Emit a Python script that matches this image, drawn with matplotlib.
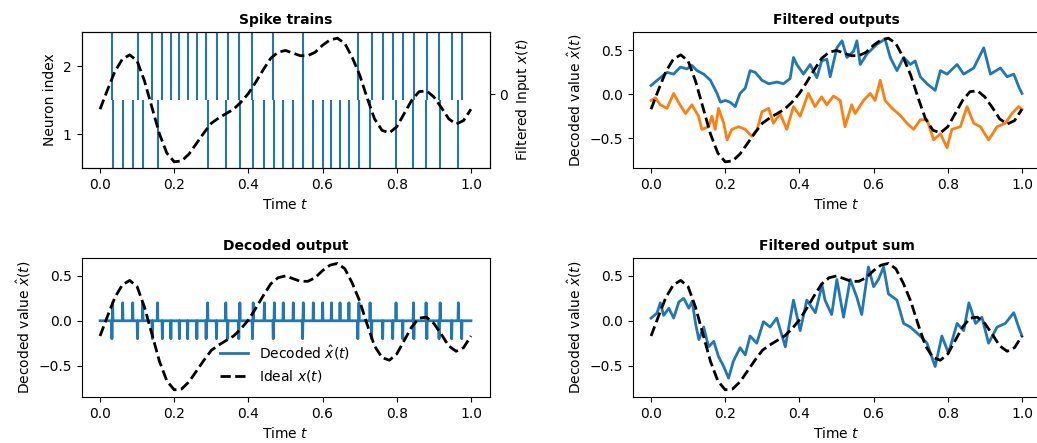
import numpy as np
import matplotlib
matplotlib.use('Agg')
import matplotlib.pyplot as plt

# spike times (s)
spikes_n1 = [0.034, 0.061, 0.088, 0.115, 0.155, 0.290, 0.339, 0.377, 0.413, 0.443,
             0.470, 0.494, 0.521, 0.548, 0.575, 0.600, 0.624, 0.647, 0.671, 0.698,
             0.728, 0.798, 0.845, 0.879, 0.917, 0.966]
spikes_n2 = [0.032, 0.101, 0.141, 0.168, 0.191, 0.214, 0.236, 0.261, 0.286, 0.314,
             0.344, 0.374, 0.411, 0.467, 0.546, 0.695, 0.732, 0.762, 0.789, 0.816,
             0.846, 0.881, 0.914, 0.948, 0.975]
spike_height = 0.2

# ideal filtered input x(t)
t_x = [0.00, 0.02, 0.04, 0.06, 0.08, 0.10, 0.12, 0.14, 0.16, 0.18, 0.20, 0.22, 0.24,
       0.26, 0.28, 0.30, 0.32, 0.34, 0.36, 0.38, 0.40, 0.42, 0.44, 0.46, 0.48, 0.50,
       0.52, 0.54, 0.56, 0.58, 0.60, 0.62, 0.64, 0.66, 0.68, 0.70, 0.72, 0.74, 0.76,
       0.78, 0.80, 0.82, 0.84, 0.86, 0.88, 0.90, 0.92, 0.94, 0.96, 0.98, 1.00]
x_ideal = [-0.17, 0.05, 0.26, 0.40, 0.45, 0.38, 0.15, -0.15, -0.45, -0.67, -0.77,
           -0.76, -0.68, -0.56, -0.44, -0.33, -0.27, -0.22, -0.17, -0.09, 0.01, 0.14,
           0.28, 0.41, 0.48, 0.50, 0.47, 0.44, 0.44, 0.48, 0.56, 0.62, 0.64, 0.58,
           0.42, 0.22, -0.04, -0.28, -0.41, -0.44, -0.37, -0.22, -0.07, 0.03, 0.04,
           -0.03, -0.15, -0.28, -0.34, -0.30, -0.17]

# filtered outputs of the two neurons
t_blue = [0.000, 0.025, 0.043, 0.061, 0.079, 0.097, 0.110, 0.124, 0.142, 0.160,
          0.178, 0.187, 0.200, 0.213, 0.227, 0.240, 0.254, 0.267, 0.281, 0.299,
          0.317, 0.340, 0.357, 0.375, 0.384, 0.393, 0.411, 0.429, 0.447, 0.460,
          0.474, 0.483, 0.501, 0.515, 0.528, 0.546, 0.555, 0.564, 0.582, 0.609,
          0.631, 0.645, 0.663, 0.681, 0.699, 0.712, 0.726, 0.744, 0.766, 0.780,
          0.798, 0.825, 0.843, 0.870, 0.897, 0.915, 0.942, 0.960, 0.978, 0.992, 1.000]
y_blue = [0.10, 0.19, 0.25, 0.23, 0.31, 0.29, 0.33, 0.27, 0.23, 0.16, 0.01, -0.09,
          -0.07, -0.09, -0.14, 0.01, 0.07, 0.27, 0.25, 0.16, 0.12, 0.14, 0.12, 0.18,
          0.42, 0.34, 0.23, 0.34, 0.19, 0.38, 0.40, 0.20, 0.53, 0.61, 0.42, 0.49,
          0.61, 0.34, 0.46, 0.57, 0.63, 0.42, 0.27, 0.42, 0.34, 0.38, 0.20, 0.12,
          0.045, 0.27, 0.23, 0.34, 0.23, 0.30, 0.53, 0.23, 0.30, 0.20, 0.23, 0.08, 0.01]
t_orange = [0.000, 0.012, 0.025, 0.043, 0.061, 0.075, 0.093, 0.110, 0.128, 0.137,
            0.155, 0.164, 0.173, 0.182, 0.196, 0.205, 0.218, 0.236, 0.254, 0.272,
            0.286, 0.299, 0.317, 0.330, 0.348, 0.366, 0.384, 0.402, 0.424, 0.442,
            0.460, 0.474, 0.492, 0.510, 0.523, 0.541, 0.550, 0.573, 0.591, 0.604,
            0.618, 0.631, 0.650, 0.672, 0.690, 0.708, 0.726, 0.744, 0.762, 0.780,
            0.798, 0.811, 0.834, 0.852, 0.870, 0.888, 0.910, 0.933, 0.955, 0.973,
            0.991, 1.000]
y_orange = [-0.07, -0.04, -0.12, -0.16, 0.01, -0.10, -0.22, -0.12, -0.25, -0.40,
            -0.37, -0.25, -0.40, -0.16, -0.33, -0.52, -0.40, -0.37, -0.40, -0.48,
            -0.40, -0.20, -0.16, -0.33, -0.22, -0.40, -0.14, -0.25, 0.01, -0.14,
            -0.03, -0.12, -0.02, -0.07, -0.37, -0.12, -0.22, -0.07, 0.01, -0.07,
            0.16, -0.07, -0.16, -0.24, -0.33, -0.40, -0.29, -0.29, -0.52, -0.45,
            -0.61, -0.40, -0.37, -0.14, -0.33, -0.37, -0.52, -0.37, -0.33, -0.22,
            -0.14, -0.17]

# sum of the filtered outputs
t_sum = [0.000, 0.016, 0.025, 0.034, 0.048, 0.061, 0.075, 0.088, 0.102, 0.111,
         0.120, 0.129, 0.142, 0.155, 0.169, 0.182, 0.196, 0.209, 0.222, 0.240,
         0.254, 0.267, 0.285, 0.303, 0.321, 0.339, 0.362, 0.384, 0.402, 0.420,
         0.443, 0.461, 0.469, 0.487, 0.501, 0.519, 0.537, 0.555, 0.568, 0.586,
         0.600, 0.613, 0.627, 0.640, 0.663, 0.681, 0.699, 0.726, 0.744, 0.766,
         0.784, 0.802, 0.825, 0.843, 0.857, 0.875, 0.892, 0.910, 0.933, 0.955,
         0.978, 0.991, 1.000]
y_sum = [0.03, 0.085, 0.20, 0.06, 0.14, 0.03, 0.21, 0.25, 0.14, 0.22, -0.03, -0.21,
         -0.07, -0.29, -0.23, -0.40, -0.51, -0.64, -0.45, -0.30, -0.38, -0.17, -0.25,
         -0.01, -0.07, 0.03, -0.29, 0.23, -0.11, 0.23, 0.09, 0.40, 0.23, 0.07, 0.46,
         0.04, 0.46, 0.26, 0.07, 0.60, 0.38, 0.46, 0.60, 0.30, 0.23, -0.03, -0.07,
         -0.17, -0.25, -0.51, -0.17, -0.36, -0.03, -0.11, 0.20, -0.03, 0.04, -0.25,
         -0.07, -0.03, 0.09, -0.07, -0.17]

# decoded output: impulses at the spike times
dt = 0.001
t_dec = np.arange(0, 1 + dt / 2, dt)
x_dec = np.zeros_like(t_dec)
for s in spikes_n1:
    x_dec[int(round(s / dt))] += spike_height
for s in spikes_n2:
    x_dec[int(round(s / dt))] -= spike_height

W, H = 1037, 443
fig = plt.figure(figsize=(W / 100, H / 100), dpi=100)

def box(l, t, r, b):
    return [l / W, 1 - b / H, (r - l) / W, (b - t) / H]

ticks_t = [0, 0.2, 0.4, 0.6, 0.8, 1.0]

# spike trains
ax1 = fig.add_axes(box(81.5, 32, 489.5, 168))
ax1.eventplot([spikes_n1, spikes_n2], lineoffsets=[1, 2], linelengths=1,
              colors='C0', linewidths=1.5)
ax1.set_ylim(0.5, 2.5)
ax1.set_yticks([1, 2])
ax1.set_xlim(-0.05, 1.05)
ax1.set_xticks(ticks_t)
ax1.set_ylabel('Neuron index')
ax1.set_xlabel('Time $t$')
ax1.set_title('Spike trains', fontweight='bold', fontsize=10)
ax1b = ax1.twinx()
ax1b.plot(t_x, x_ideal, 'k--', lw=2)
ax1b.set_yticks([0])
ax1b.set_ylabel('Filtered Input $x(t)$')

# filtered outputs
ax2 = fig.add_axes(box(632.5, 32, 1040.5, 168))
ax2.plot(t_blue, y_blue, color='C0', lw=2)
ax2.plot(t_orange, y_orange, color='C1', lw=2)
ax2.plot(t_x, x_ideal, 'k--', lw=2)
ax2.set_xticks(ticks_t)
ax2.set_yticks([-0.5, 0, 0.5])
ax2.set_ylabel(r'Decoded value $\hat{x}(t)$')
ax2.set_xlabel('Time $t$')
ax2.set_title('Filtered outputs', fontweight='bold', fontsize=10)

# decoded output
ax3 = fig.add_axes(box(81.5, 258, 489.5, 397))
ax3.plot(t_dec, x_dec, color='C0', lw=2, label=r'Decoded $\hat{x}(t)$')
ax3.plot(t_x, x_ideal, 'k--', lw=2, label='Ideal $x(t)$')
ax3.set_xticks(ticks_t)
ax3.set_yticks([-0.5, 0, 0.5])
ax3.set_ylim(-0.85, 0.70)
ax3.set_ylabel(r'Decoded value $\hat{x}(t)$')
ax3.set_xlabel('Time $t$')
ax3.set_title('Decoded output', fontweight='bold', fontsize=10)
ax3.legend(loc='lower center', frameon=False)

# filtered output sum
ax4 = fig.add_axes(box(632.5, 258, 1040.5, 397))
ax4.plot(t_sum, y_sum, color='C0', lw=2)
ax4.plot(t_x, x_ideal, 'k--', lw=2)
ax4.set_xticks(ticks_t)
ax4.set_yticks([-0.5, 0, 0.5])
ax4.set_ylim(-0.85, 0.70)
ax4.set_ylabel(r'Decoded value $\hat{x}(t)$')
ax4.set_xlabel('Time $t$')
ax4.set_title('Filtered output sum', fontweight='bold', fontsize=10)

fig.savefig('out.png', dpi=100)
